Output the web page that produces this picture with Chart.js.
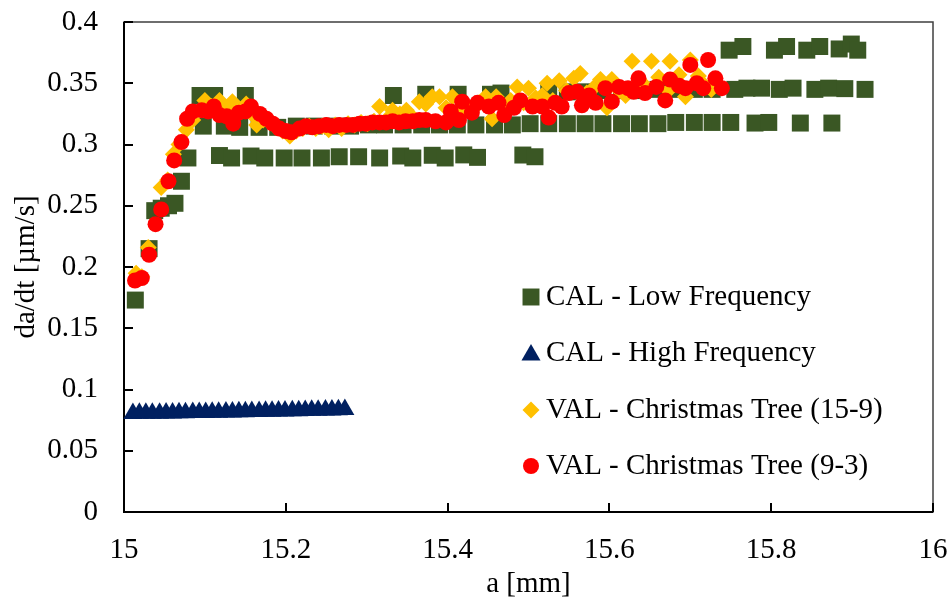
<!DOCTYPE html>
<html>
<head>
<meta charset="utf-8">
<script src="https://cdn.jsdelivr.net/npm/chart.js"></script>
<style>
  html, body { margin: 0; padding: 0; background: #fff; }
  #wrap { width: 949px; height: 599px; position: relative; }
</style>
</head>
<body>
<div id="wrap"><canvas id="c"></canvas></div>
<script>
// ---- Data ----
const seriesNames = ['CAL - Low Frequency', 'CAL - High Frequency', 'VAL - Christmas Tree (15-9)', 'VAL - Christmas Tree (9-3)'];
const xTickLabels = ['15', '15.2', '15.4', '15.6', '15.8', '16'];
const yTickLabels = ['0', '0.05', '0.1', '0.15', '0.2', '0.25', '0.3', '0.35', '0.4'];
const xTitle = 'a [mm]';
const yTitle = 'da/dt [\u00b5m/s]';

const calLowX = [15.014, 15.031, 15.038, 15.046, 15.055, 15.063, 15.071, 15.079,
  15.094, 15.112, 15.150,
  15.098, 15.124, 15.143, 15.167, 15.190, 15.213, 15.235, 15.258, 15.280, 15.302, 15.322, 15.345, 15.368, 15.390, 15.412, 15.435, 15.458, 15.480, 15.502, 15.525, 15.548, 15.570, 15.592, 15.615, 15.637, 15.660, 15.682, 15.705, 15.727, 15.750, 15.780, 15.797, 15.836, 15.875,
  15.118, 15.133, 15.157, 15.174, 15.198, 15.220, 15.244, 15.266, 15.290, 15.316, 15.342, 15.357, 15.381, 15.397, 15.420, 15.437, 15.493, 15.508,
  15.333, 15.373, 15.413, 15.453, 15.466, 15.525, 15.548, 15.570, 15.592, 15.615, 15.637, 15.660, 15.682, 15.705, 15.727, 15.755, 15.770, 15.788, 15.810, 15.827, 15.854, 15.871, 15.891, 15.916,
  15.748, 15.765, 15.804, 15.819, 15.844, 15.860, 15.884, 15.899, 15.907];
const calLowY = [0.173, 0.215, 0.246, 0.248, 0.250, 0.252, 0.270, 0.289,
  0.340, 0.340, 0.340,
  0.315, 0.315, 0.314, 0.314, 0.314, 0.315, 0.315, 0.315, 0.315, 0.316, 0.316, 0.316, 0.316, 0.316, 0.316, 0.316, 0.316, 0.316, 0.317, 0.317, 0.317, 0.317, 0.317, 0.317, 0.317, 0.317, 0.318, 0.318, 0.318, 0.318, 0.3175, 0.318, 0.3175, 0.3175,
  0.291, 0.289, 0.2906, 0.289, 0.289, 0.289, 0.289, 0.290, 0.290, 0.289, 0.2906, 0.289, 0.2912, 0.289, 0.2915, 0.2895, 0.2914, 0.290,
  0.340, 0.341, 0.341, 0.341, 0.342, 0.343, 0.343, 0.343, 0.344, 0.344, 0.344, 0.345, 0.345, 0.345, 0.345, 0.345, 0.346, 0.346, 0.345, 0.346, 0.345, 0.346, 0.3456, 0.345,
  0.377, 0.380, 0.377, 0.380, 0.377, 0.380, 0.378, 0.382, 0.377];

const calHighX = [15.011, 15.019, 15.027, 15.035, 15.044, 15.052, 15.060, 15.068, 15.076, 15.085, 15.093, 15.101, 15.109, 15.117, 15.126, 15.134, 15.142, 15.150, 15.158, 15.167, 15.175, 15.183, 15.191, 15.199, 15.208, 15.216, 15.224, 15.232, 15.240, 15.249, 15.257, 15.265, 15.273];
const calHighY = [0.0805, 0.0806, 0.0806, 0.0807, 0.0807, 0.0808, 0.0809, 0.0810, 0.0811, 0.0812, 0.0812, 0.0813, 0.0814, 0.0815, 0.0816, 0.0817, 0.0818, 0.0819, 0.0820, 0.0821, 0.0822, 0.0823, 0.0824, 0.0825, 0.0826, 0.0827, 0.0828, 0.0830, 0.0831, 0.0832, 0.0833, 0.0835, 0.0837];

const val159X = [15.015, 15.022, 15.030, 15.046, 15.054, 15.061, 15.068, 15.077, 15.085, 15.100, 15.108, 15.118, 15.126, 15.134, 15.142, 15.151, 15.158, 15.164, 15.172, 15.180, 15.188, 15.196, 15.205, 15.213, 15.221, 15.229, 15.237, 15.245, 15.253, 15.261, 15.269, 15.277, 15.285, 15.293, 15.301, 15.309, 15.316, 15.324, 15.332, 15.341, 15.349, 15.357, 15.365, 15.373, 15.381, 15.390, 15.398, 15.406, 15.414, 15.422, 15.430, 15.439, 15.447, 15.455, 15.460, 15.470, 15.478, 15.486, 15.494, 15.500, 15.509, 15.517, 15.523, 15.530, 15.538, 15.547, 15.556, 15.564, 15.572, 15.580, 15.589, 15.597, 15.603, 15.612, 15.620, 15.628, 15.636, 15.644, 15.652, 15.661, 15.673, 15.675, 15.686, 15.694, 15.700, 15.710, 15.718, 15.726];
const val159Y = [0.195, 0.192, 0.216, 0.265, 0.271, 0.292, 0.300, 0.312, 0.320, 0.336, 0.331, 0.336, 0.330, 0.335, 0.327, 0.333, 0.325, 0.316, 0.320, 0.318, 0.314, 0.311, 0.307, 0.311, 0.313, 0.315, 0.313, 0.315, 0.312, 0.316, 0.313, 0.317, 0.316, 0.318, 0.317, 0.319, 0.331, 0.320, 0.328, 0.325, 0.328, 0.322, 0.335, 0.333, 0.339, 0.339, 0.330, 0.339, 0.326, 0.332, 0.328, 0.334, 0.339, 0.321, 0.339, 0.330, 0.336, 0.347, 0.334, 0.346, 0.338, 0.340, 0.350, 0.336, 0.352, 0.344, 0.354, 0.358, 0.342, 0.346, 0.353, 0.330, 0.353, 0.344, 0.340, 0.368, 0.346, 0.348, 0.368, 0.355, 0.344, 0.368, 0.357, 0.339, 0.369, 0.356, 0.348, 0.345];

const val93X = [15.0136, 15.022, 15.031, 15.039, 15.046, 15.055, 15.062, 15.071, 15.078, 15.085, 15.096, 15.104, 15.111, 15.118, 15.127, 15.135, 15.142, 15.150, 15.157, 15.168, 15.176, 15.184, 15.192, 15.200, 15.207, 15.217, 15.225, 15.233, 15.241, 15.250, 15.258, 15.266, 15.275, 15.283, 15.291, 15.299, 15.307, 15.316, 15.324, 15.332, 15.340, 15.348, 15.357, 15.365, 15.373, 15.385, 15.398, 15.404, 15.414, 15.418, 15.430, 15.437, 15.451, 15.463, 15.470, 15.482, 15.490, 15.505, 15.517, 15.525, 15.533, 15.541, 15.550, 15.560, 15.566, 15.575, 15.583, 15.595, 15.603, 15.612, 15.623, 15.630, 15.636, 15.644, 15.658, 15.669, 15.675, 15.686, 15.694, 15.700, 15.708, 15.716, 15.722, 15.731, 15.739];
const val93Y = [0.189, 0.191, 0.210, 0.235, 0.247, 0.270, 0.287, 0.302, 0.321, 0.327, 0.328, 0.327, 0.331, 0.324, 0.323, 0.317, 0.326, 0.327, 0.331, 0.325, 0.321, 0.317, 0.313, 0.311, 0.310, 0.313, 0.315, 0.314, 0.315, 0.316, 0.315, 0.316, 0.316, 0.316, 0.317, 0.317, 0.318, 0.318, 0.318, 0.319, 0.318, 0.319, 0.319, 0.320, 0.320, 0.319, 0.318, 0.327, 0.320, 0.335, 0.326, 0.334, 0.331, 0.334, 0.324, 0.330, 0.336, 0.331, 0.331, 0.322, 0.334, 0.331, 0.342, 0.343, 0.332, 0.340, 0.334, 0.346, 0.335, 0.347, 0.346, 0.343, 0.354, 0.342, 0.347, 0.336, 0.353, 0.348, 0.346, 0.365, 0.350, 0.346, 0.369, 0.354, 0.346];

const colors = ['#3a5724', '#002060', '#ffc000', '#ff0000'];
const styles = ['rect', 'triangle', 'rectRot', 'circle'];
const radii = [12, 11, 8.5, 8];

function pts(xs, ys) { return xs.map((x, i) => ({x: x, y: ys[i]})); }
const seriesData = [pts(calLowX, calLowY), pts(calHighX, calHighY), pts(val159X, val159Y), pts(val93X, val93Y)];

const FONT = '"Liberation Serif", "Times New Roman", serif';
const FS = 29;

function drawMarker(ctx, style, r, x, y, color) {
  ctx.save();
  ctx.fillStyle = color;
  ctx.beginPath();
  if (style === 'rect') {
    const s = Math.SQRT1_2 * r;
    ctx.rect(x - s, y - s, 2 * s, 2 * s);
  } else if (style === 'triangle') {
    ctx.moveTo(x, y - r);
    ctx.lineTo(x + Math.sin(2 * Math.PI / 3) * r, y + r / 2);
    ctx.lineTo(x - Math.sin(2 * Math.PI / 3) * r, y + r / 2);
    ctx.closePath();
  } else if (style === 'rectRot') {
    ctx.moveTo(x - r, y); ctx.lineTo(x, y - r); ctx.lineTo(x + r, y); ctx.lineTo(x, y + r);
    ctx.closePath();
  } else {
    ctx.arc(x, y, r, 0, Math.PI * 2);
  }
  ctx.fill();
  ctx.restore();
}

const framePlugin = {
  id: 'frame',
  beforeDatasetsDraw(chart) {
    const {ctx, scales} = chart;
    const L = Math.round(scales.x.getPixelForValue(scales.x.min));
    const R = Math.round(scales.x.getPixelForValue(scales.x.max));
    const T = Math.round(scales.y.getPixelForValue(scales.y.max));
    const B = Math.round(scales.y.getPixelForValue(scales.y.min));
    ctx.save();
    ctx.strokeStyle = '#3f3f3f';
    ctx.lineWidth = 1.5;
    ctx.strokeRect(L, T, R - L, B - T);
    ctx.strokeStyle = '#000';
    ctx.lineWidth = 2;
    ctx.beginPath();
    ctx.moveTo(L, T); ctx.lineTo(L, B); ctx.lineTo(R, B);
    ctx.stroke();
    ctx.beginPath();
    scales.y.ticks.forEach(t => {
      const py = Math.round(scales.y.getPixelForValue(t.value));
      ctx.moveTo(L, py); ctx.lineTo(L + 9, py);
    });
    scales.x.ticks.forEach(t => {
      const px = Math.round(scales.x.getPixelForValue(t.value));
      ctx.moveTo(px, B); ctx.lineTo(px, B - 9);
    });
    ctx.stroke();
    ctx.restore();
  },
  afterDraw(chart) {
    const ctx = chart.ctx;
    const rows = [297, 353, 410, 466];
    ctx.save();
    ctx.font = FS + 'px ' + FONT;
    ctx.fillStyle = '#000';
    ctx.textBaseline = 'middle';
    ctx.textAlign = 'left';
    chart.data.datasets.forEach((ds, i) => {
      drawMarker(ctx, styles[i], radii[i], 531, rows[i] + (styles[i] === 'triangle' ? 2 : 0), colors[i]);
      ctx.fillText(ds.label, 546, rows[i]);
    });
    ctx.restore();
  }
};

new Chart(document.getElementById('c'), {
  type: 'scatter',
  data: {
    datasets: seriesData.map((d, i) => ({
      label: seriesNames[i],
      data: d,
      pointStyle: styles[i],
      pointRadius: radii[i],
      pointHoverRadius: radii[i],
      backgroundColor: colors[i],
      borderColor: colors[i],
      pointBorderWidth: 0,
      showLine: false,
      clip: false,
      order: 4 - i
    }))
  },
  options: {
    responsive: true,
    maintainAspectRatio: false,
    animation: false,
    events: [],
    layout: { padding: { top: 22, right: 16, left: 0, bottom: 0 } },
    plugins: { legend: { display: false }, tooltip: { enabled: false } },
    scales: {
      x: {
        type: 'linear', min: 15, max: 16,
        afterFit(s) { s.height = 87; s.paddingLeft = 0; s.paddingRight = 0; },
        grid: { display: false, drawTicks: false },
        border: { display: false },
        ticks: {
          stepSize: 0.2, padding: 21, color: '#000',
          font: { family: FONT, size: FS },
          maxRotation: 0,
          callback: (v, i) => xTickLabels[i]
        },
        title: { display: true, text: xTitle, color: '#000', font: { family: FONT, size: FS }, padding: { top: 0, bottom: -3 } }
      },
      y: {
        type: 'linear', min: 0, max: 0.4,
        afterFit(s) { s.width = 124; s.paddingTop = 0; s.paddingBottom = 0; },
        grid: { display: false, drawTicks: false },
        border: { display: false },
        ticks: {
          stepSize: 0.05, padding: 26, color: '#000',
          font: { family: FONT, size: FS },
          callback: (v, i) => yTickLabels[i]
        },
        title: { display: true, text: yTitle, color: '#000', font: { family: FONT, size: FS }, padding: { top: 9, bottom: 0 } }
      }
    }
  },
  plugins: [framePlugin]
});
</script>
</body>
</html>
